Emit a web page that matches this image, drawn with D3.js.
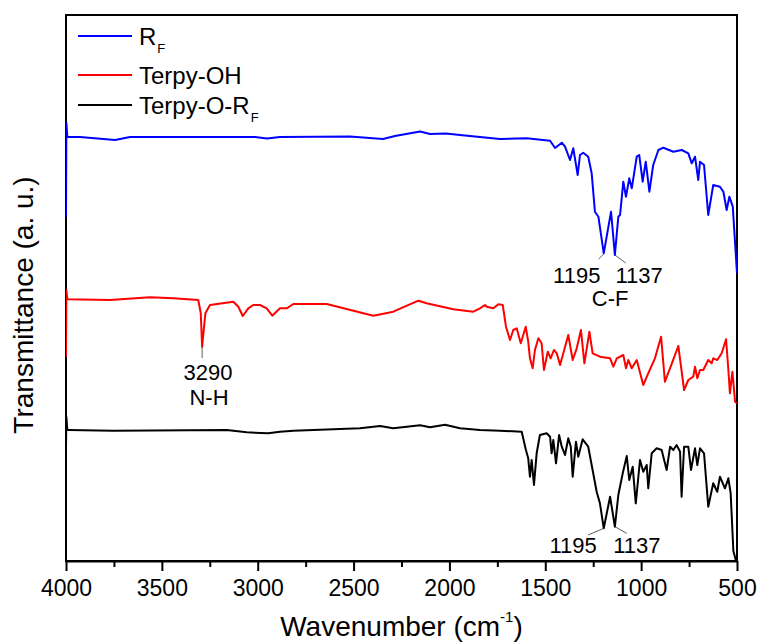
<!DOCTYPE html>
<html>
<head>
<meta charset="utf-8">
<script src="https://cdn.jsdelivr.net/npm/d3@7/dist/d3.min.js"></script>
<style>
  html, body { margin: 0; padding: 0; background: #fff; }
  svg { display: block; font-family: "Liberation Sans", Arial, sans-serif; }
</style>
</head>
<body>
<svg id="chart" width="763" height="643"></svg>
<script>
// ---------- DATA (wavenumber cm^-1, transmittance a.u. with stacking offset) ----------
const wnRF = [4000,3998,3993,3927,3744,3666,3510,3301,3014,2952,2884,2519,2347,2284,2153,2101,2018,1945,1841,1736,1597,1475,1449,1414,1397,1371,1354,1331,1319,1302,1276,1258,1241,1223,1195,1157,1137,1119,1110,1093,1079,1062,1049,1023,1010,992,976,957,937,910,884,832,788,754,736,719,702,693,672,650,624,589,571,554,540,522,500];
const tRF  = [344,438,424,424,421,424,424,424,424,422.5,424,424.5,422,425,429.5,427,427.5,426,424,422,422.7,420.3,413,418.3,414.3,401,412.7,386,406,408.3,404.3,387.7,349.3,344.3,307.7,349.3,306,344.3,346,379.3,364.3,382.7,372.7,404.3,406,379.3,399.3,369.3,396,411,413.3,409.3,411,407.7,397.7,404.3,381,399.3,396,346,376,374.3,369.3,351,364.3,354.3,287.7];

const wnOH = [4000,3998,3993,3988,3770,3562,3440,3310,3297,3290,3273,3249,3127,3101,3078,3049,3023,2988,2953,2924,2884,2849,2814,2640,2397,2293,2162,2119,1980,1875,1841,1814,1806,1771,1745,1722,1705,1684,1667,1649,1628,1602,1589,1580,1566,1554,1536,1519,1507,1487,1472,1455,1440,1423,1406,1380,1357,1336,1314,1296,1270,1253,1215,1162,1145,1127,1093,1079,1067,1049,1023,989,963,928,896,876,846,806,776,754,728,719,707,693,676,650,632,624,603,580,557,545,537,524,510,500];
const tOH  = [204,271,262,261.7,261,263.7,262.7,261,247.7,214.3,247.7,256,259.3,254.3,245,252.7,256,256,252.7,245.3,252.7,252.7,257,257,245.3,249.3,260.3,257.7,251.7,249.3,252.7,256,254.3,252.7,256.7,256,234.3,221,231,232.7,217.7,234.3,219.3,202.7,192.7,211,222.7,217.7,191,209.3,202.7,211,207.7,196,207.7,226,201,212.7,231,197.7,229.3,207.7,204.3,202.7,194.3,202.7,206,192.7,201,192.7,201,176,187.7,202.7,224.3,179.3,194.3,215,171,181,184.3,194.3,182.7,191,191,201,197.7,202.7,201,207.7,221.7,191,167.7,189.3,159.3,157.7];

const wnORF = [4000,3998,3993,3988,3753,3162,3057,2945,2884,2814,2466,2362,2293,2153,2101,2023,1945,1841,1736,1623,1601,1589,1580,1571,1559,1545,1528,1493,1475,1467,1458,1444,1428,1414,1397,1380,1367,1357,1340,1328,1305,1276,1250,1232,1215,1195,1162,1137,1119,1096,1075,1062,1044,1028,1006,989,971,963,945,919,893,867,849,832,815,797,789,776,754,740,719,707,693,672,650,624,603,589,563,545,533,519,505,500];
const tORF  = [114,144,131,131,130.3,131,128.7,127.7,129.3,130.3,132.7,135,132.7,135.7,133.7,136.3,132.7,131,130.3,129.3,111,102.7,84.3,101,76,107.7,126,127.7,124.3,107.7,121,97.7,126,114.3,106,122.7,114.3,84.3,119.3,104.3,121.7,114.3,87.7,69.3,57.7,32.7,64.3,34.3,66,87.7,105,81,94.3,57.7,101,89.3,96,72.7,107.7,112.7,111,91,114.3,111,116,109.3,64.3,114.3,114.3,91,112.7,96,112.7,107.7,54.3,77.7,69.3,84.3,72.7,82.7,67.7,10,0,-5];

const seriesNames  = ["R", "Terpy-OH", "Terpy-O-R"];
const seriesSubs   = ["F", "", "F"];
const seriesColors = ["#0000ff", "#ff0000", "#000000"];

const xTicks = [4000,3500,3000,2500,2000,1500,1000,500];
const xMinorTicks = [3750,3250,2750,2250,1750,1250,750];

// annotations: label text, wavenumber, value
const annoLabels = [
  {text:"1195", wn:1336, v:278.5},
  {text:"1137", wn:1011, v:278.5},
  {text:"C-F",  wn:1162, v:255},
  {text:"3290", wn:3259, v:181},
  {text:"N-H",  wn:3254, v:156},
  {text:"1195", wn:1355, v:8},
  {text:"1137", wn:1022, v:8}
];
const annoLines = [
  {wn1:1195, v1:307, wn2:1222, v2:302},
  {wn1:1137, v1:306, wn2:1080, v2:298},
  {wn1:3290, v1:214, wn2:3290, v2:203},
  {wn1:1195, v1:32.7, wn2:1277, v2:26},
  {wn1:1137, v1:34.3, wn2:1075, v2:27.7}
];

// ---------- LAYOUT ----------
const L = 66, R = 737, T = 15, B = 561;
const svg = d3.select("#chart");

const x = d3.scaleLinear().domain([4000, 500]).range([L, R]);
const y = d3.scaleLinear().domain([0, 546]).range([B, T]);

svg.append("defs").append("clipPath").attr("id", "clip")
  .append("rect").attr("x", L).attr("y", T).attr("width", R - L).attr("height", B - T);

const line = d3.line().x(d => x(d[0])).y(d => y(d[1]));
const seriesData = [d3.zip(wnRF, tRF), d3.zip(wnOH, tOH), d3.zip(wnORF, tORF)];

// frame
svg.append("rect").attr("x", L).attr("y", T).attr("width", R - L).attr("height", B - T)
  .attr("fill", "none").attr("stroke", "#000").attr("stroke-width", 2);

// spectra
const g = svg.append("g").attr("clip-path", "url(#clip)");
seriesData.forEach((d, i) => {
  g.append("path").datum(d).attr("d", line)
    .attr("fill", "none").attr("stroke", seriesColors[i])
    .attr("stroke-width", 2).attr("stroke-linejoin", "round");
});

// x axis
const xAxis = svg.append("g").attr("transform", `translate(0,${B})`)
  .call(d3.axisBottom(x).tickValues(xTicks).tickFormat(d3.format("d")).tickSize(10).tickSizeOuter(0));
xAxis.select(".domain").attr("stroke-width", 2);
xAxis.selectAll(".tick line").attr("stroke-width", 2);
xAxis.selectAll(".tick text").attr("y", 35).attr("dy", 0)
  .style("font-size", "23px").style("font-family", "'Liberation Sans', Arial, sans-serif").attr("fill", "#000");
svg.append("g").attr("transform", `translate(0,${B})`)
  .call(d3.axisBottom(x).tickValues(xMinorTicks).tickFormat("").tickSize(6).tickSizeOuter(0))
  .call(s => s.select(".domain").remove())
  .selectAll(".tick line").attr("stroke-width", 2);

// axis titles
const xt = svg.append("text").attr("x", (L + R) / 2).attr("y", 636).attr("text-anchor", "middle")
  .style("font-size", "28px").attr("fill", "#000");
xt.append("tspan").text("Wavenumber (cm");
xt.append("tspan").text("-1").style("font-size", "15px").attr("dy", -14);
xt.append("tspan").text(")").attr("dy", 14);

svg.append("text").attr("transform", "translate(33,305) rotate(-90)").attr("text-anchor", "middle")
  .style("font-size", "28px").attr("fill", "#000").text("Transmittance (a. u.)");

// legend
const legendRows = [36, 75, 105];
seriesNames.forEach((name, i) => {
  const ly = legendRows[i];
  svg.append("line").attr("x1", 78).attr("x2", 132).attr("y1", ly).attr("y2", ly)
    .attr("stroke", seriesColors[i]).attr("stroke-width", 2);
  const t = svg.append("text").attr("x", 139).attr("y", ly + 9).style("font-size", "24px").attr("fill", "#000");
  t.append("tspan").text(name);
  if (seriesSubs[i]) t.append("tspan").text(seriesSubs[i]).style("font-size", "13px").attr("dx", 1).attr("dy", 8);
});

// annotations
annoLines.forEach(a => {
  svg.append("line").attr("x1", x(a.wn1)).attr("y1", y(a.v1)).attr("x2", x(a.wn2)).attr("y2", y(a.v2))
    .attr("stroke", "#333").attr("stroke-width", 0.8);
});
annoLabels.forEach(a => {
  svg.append("text").attr("x", x(a.wn)).attr("y", y(a.v)).attr("text-anchor", "middle")
    .style("font-size", "22px").attr("fill", "#000").text(a.text);
});
</script>
</body>
</html>
